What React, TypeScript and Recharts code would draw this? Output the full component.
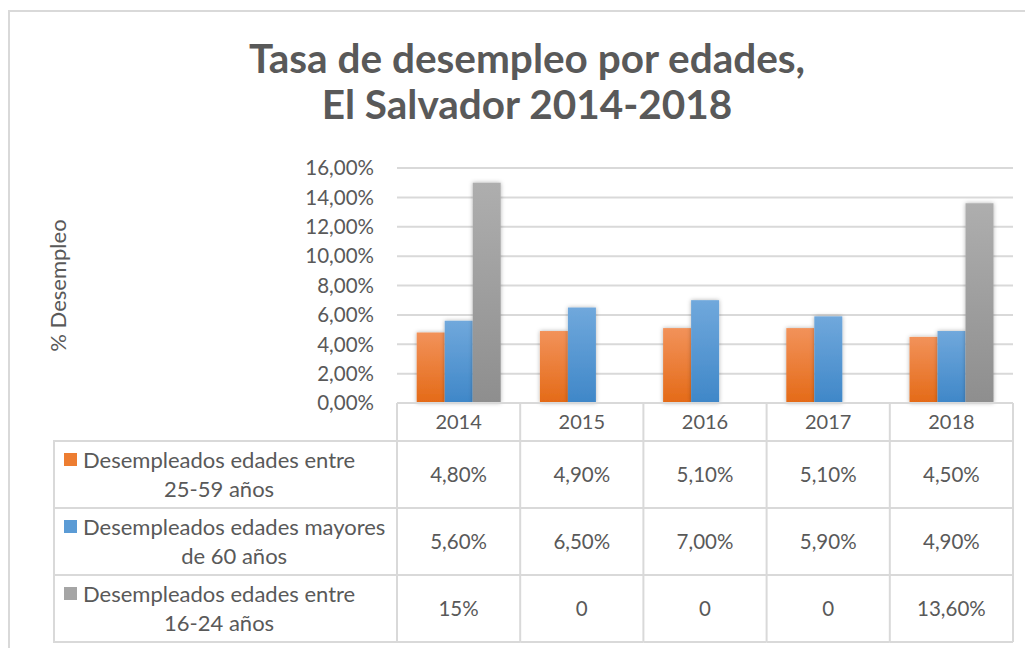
import React from 'react';
import { BarChart, Bar, XAxis, YAxis, CartesianGrid, Legend, Label } from 'recharts';

const years = ['2014', '2015', '2016', '2017', '2018'];
const adults = [4.8, 4.9, 5.1, 5.1, 4.5];
const seniors = [5.6, 6.5, 7.0, 5.9, 4.9];
const youth = [15, 0, 0, 0, 13.6];
// the table shows this row with its own (irregular) number format
const youthLabels = ['15%', '0', '0', '0', '13,60%'];
const yTicks = [0, 2, 4, 6, 8, 10, 12, 14, 16];

const seriesKeys = ['adults', 'seniors', 'youth'];
const seriesNames = [
  'Desempleados edades entre 25-59 años',
  'Desempleados edades mayores de 60 años',
  'Desempleados edades entre 16-24 años',
];
const markerColors = ['#ED7D31', '#5B9BD5', '#A5A5A5'];

const data = years.map((year, i) => ({
  year,
  adults: adults[i],
  seniors: seniors[i],
  youth: youth[i],
}));

const pct = (v: number) => v.toFixed(2).replace('.', ',') + '%';

const tableRows = [adults.map(pct), seniors.map(pct), youthLabels];

const FONT = 'Lato, "Open Sans", sans-serif';
const TEXT = '#595959';
const LINE = '#d9d9d9';

// table geometry below the plot, relative to the x axis top
const HEADER_H = 38;
const ROW_H = 67;

function TableColumn(props: any) {
  const { x, y, payload, index } = props;
  const colW = payload && payload.offset ? payload.offset * 2 : 123;
  const left = x - colW / 2;
  const right = x + colW / 2;
  const bottom = y + HEADER_H + ROW_H * tableRows.length;
  const lines = [y, y + HEADER_H, ...tableRows.map((_, r) => y + HEADER_H + ROW_H * (r + 1))];
  return (
    <g>
      {lines.map((ly, k) => (
        <line key={k} x1={left} x2={right} y1={ly} y2={ly} stroke={LINE} strokeWidth={2} />
      ))}
      <line x1={left} x2={left} y1={y} y2={bottom} stroke={LINE} strokeWidth={2} />
      {index === years.length - 1 && (
        <line x1={right} x2={right} y1={y} y2={bottom} stroke={LINE} strokeWidth={2} />
      )}
      <text x={x} y={y + HEADER_H / 2 + 7} textAnchor="middle" fill={TEXT} fontSize={20} fontFamily={FONT}>
        {payload.value}
      </text>
      {tableRows.map((row, r) => (
        <text
          key={r}
          x={x}
          y={y + HEADER_H + ROW_H * r + ROW_H / 2 + 7}
          textAnchor="middle"
          fill={TEXT}
          fontSize={20.5}
          fontFamily={FONT}
        >
          {row[index]}
        </text>
      ))}
    </g>
  );
}

function LegendColumn(props: any) {
  const items = [...(props.payload || [])].sort(
    (a: any, b: any) => seriesKeys.indexOf(a.dataKey) - seriesKeys.indexOf(b.dataKey)
  );
  return (
    <div style={{ position: 'relative', width: 345, height: 203, fontFamily: FONT, fontSize: 22, color: TEXT }}>
      {items.map((item: any, i: number) => {
        const words = String(item.value).split(' ');
        const k = seriesKeys.indexOf(item.dataKey);
        return (
          <div
            key={item.dataKey}
            style={{
              position: 'absolute',
              left: 0,
              top: i * ROW_H,
              width: 345,
              height: i === items.length - 1 ? ROW_H + 2 : ROW_H,
              boxSizing: 'border-box',
              borderTop: `2px solid ${LINE}`,
              borderLeft: `2px solid ${LINE}`,
              borderBottom: i === items.length - 1 ? `2px solid ${LINE}` : 'none',
            }}
          >
            <span
              style={{
                position: 'absolute',
                left: 9,
                top: 11,
                width: 13,
                height: 13,
                background: markerColors[k],
              }}
            />
            <div
              style={{
                position: 'absolute',
                left: 28,
                top: 3,
                display: 'inline-block',
                textAlign: 'center',
                lineHeight: '29px',
                whiteSpace: 'nowrap',
              }}
            >
              <div>{words.slice(0, 3).join(' ')}</div>
              <div>{words.slice(3).join(' ')}</div>
            </div>
          </div>
        );
      })}
    </div>
  );
}

function YTitle(props: any) {
  const vb = props.viewBox || { y: 168, height: 235 };
  const cy = vb.y + vb.height / 2;
  return (
    <text
      x={66}
      y={cy}
      transform={`rotate(-90, 66, ${cy})`}
      textAnchor="middle"
      fill={TEXT}
      fontSize={22}
      fontFamily={FONT}
    >
      % Desempleo
    </text>
  );
}

const BarShape = (props: any) => {
  const { x, y, width, height, fill } = props;
  if (!height || height <= 0) return <g />;
  return <rect x={x} y={y} width={width} height={height} fill={fill} filter="url(#barShadow)" />;
};

export default function App() {
  return (
    <div style={{ position: 'absolute', left: 0, top: 0, width: 1025, height: 648, background: '#fff', fontFamily: FONT }}>
      <div
        style={{
          position: 'absolute',
          left: 8,
          top: 10,
          width: 1017,
          height: 638,
          boxSizing: 'border-box',
          borderTop: `2px solid ${LINE}`,
          borderLeft: `2px solid ${LINE}`,
        }}
      />
      <div
        style={{
          position: 'absolute',
          left: 227,
          top: 35,
          width: 600,
          textAlign: 'center',
          fontSize: 40.5,
          lineHeight: '46px',
          fontWeight: 700,
          color: TEXT,
        }}
      >
        Tasa de desempleo por edades,
        <br />
        El Salvador 2014-2018
      </div>
      <div style={{ position: 'absolute', left: 0, top: 0 }}>
        <BarChart
          width={1025}
          height={648}
          data={data}
          margin={{ top: 168, right: 12, bottom: 6, left: 0 }}
          barCategoryGap="16%"
          barGap={0}
        >
          <defs>
            <linearGradient id="gOrange" x1="0" y1="0" x2="0" y2="1">
              <stop offset="0%" stopColor="#F2925A" />
              <stop offset="100%" stopColor="#E46A17" />
            </linearGradient>
            <linearGradient id="gBlue" x1="0" y1="0" x2="0" y2="1">
              <stop offset="0%" stopColor="#70A8DC" />
              <stop offset="100%" stopColor="#3F87C8" />
            </linearGradient>
            <linearGradient id="gGray" x1="0" y1="0" x2="0" y2="1">
              <stop offset="0%" stopColor="#AEAEAE" />
              <stop offset="100%" stopColor="#8E8E8E" />
            </linearGradient>
            <filter id="barShadow" x="-40%" y="-10%" width="180%" height="120%">
              <feDropShadow dx="0" dy="0" stdDeviation="2.2" floodColor="#000" floodOpacity="0.3" />
            </filter>
          </defs>
          <CartesianGrid vertical={false} stroke={LINE} strokeWidth={2} />
          <XAxis
            dataKey="year"
            axisLine={false}
            tickLine={false}
            tickSize={0}
            tickMargin={0}
            height={239}
            interval={0}
            tick={(p: any) => <TableColumn {...p} />}
          />
          <YAxis
            width={397}
            domain={[0, 16]}
            ticks={yTicks}
            tickFormatter={pct}
            axisLine={false}
            tickLine={false}
            tickSize={0}
            tickMargin={23}
            tick={{ fill: TEXT, fontSize: 20.5, fontFamily: FONT }}
          >
            <Label content={(p: any) => <YTitle {...p} />} />
          </YAxis>
          <Legend
            layout="vertical"
            align="center"
            verticalAlign="middle"
            wrapperStyle={{ left: 53, top: 440, width: 345, height: 203 }}
            content={(p: any) => <LegendColumn {...p} />}
          />
          <Bar dataKey="adults" name={seriesNames[0]} fill="url(#gOrange)" shape={BarShape} isAnimationActive={false} />
          <Bar dataKey="seniors" name={seriesNames[1]} fill="url(#gBlue)" shape={BarShape} isAnimationActive={false} />
          <Bar dataKey="youth" name={seriesNames[2]} fill="url(#gGray)" shape={BarShape} isAnimationActive={false} />
        </BarChart>
      </div>
    </div>
  );
}
